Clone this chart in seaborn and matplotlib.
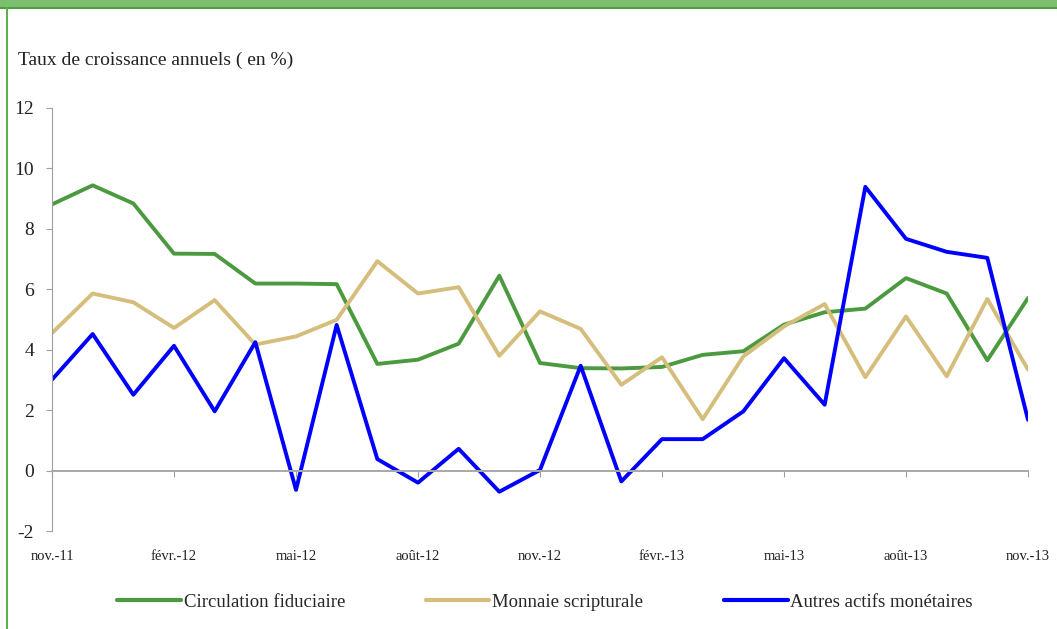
import numpy as np
import pandas as pd
import seaborn as sns
import matplotlib.pyplot as plt
from matplotlib.patches import Rectangle
from matplotlib.lines import Line2D

# Monthly annual growth rates, nov. 2011 -> nov. 2013
months = ["nov.-11", "déc.-11", "janv.-12", "févr.-12", "mars-12", "avr.-12", "mai-12",
          "juin-12", "juil.-12", "août-12", "sept.-12", "oct.-12", "nov.-12", "déc.-12",
          "janv.-13", "févr.-13", "mars-13", "avr.-13", "mai-13", "juin-13", "juil.-13",
          "août-13", "sept.-13", "oct.-13", "nov.-13"]

circulation = [8.81, 9.44, 8.84, 7.18, 7.17, 6.19, 6.19, 6.17, 3.53, 3.67, 4.20, 6.45, 3.56,
               3.39, 3.38, 3.43, 3.83, 3.95, 4.83, 5.24, 5.36, 6.37, 5.86, 3.65, 5.71]
scripturale = [4.55, 5.86, 5.57, 4.72, 5.64, 4.17, 4.44, 4.99, 6.93, 5.86, 6.07, 3.80, 5.27,
               4.69, 2.84, 3.75, 1.70, 3.78, 4.77, 5.51, 3.09, 5.10, 3.12, 5.68, 3.34]
autres = [3.01, 4.52, 2.51, 4.13, 1.96, 4.25, -0.64, 4.82, 0.38, -0.40, 0.72, -0.70, 0.02,
          3.47, -0.36, 1.04, 1.04, 1.96, 3.72, 2.18, 9.39, 7.67, 7.24, 7.04, 1.68]

series_names = ["Circulation fiduciaire", "Monnaie scripturale", "Autres actifs monétaires"]
colors = ["#4c9a40", "#d5be7c", "#0000ff"]

df = pd.DataFrame({
    "idx": list(range(len(months))) * 3,
    "valeur": circulation + scripturale + autres,
    "serie": np.repeat(series_names, len(months)),
})

sns.set_style("white")
plt.rcParams["font.family"] = ["Liberation Serif", "DejaVu Serif"]
plt.rcParams["axes.unicode_minus"] = False

W, H = 1057, 629
fig = plt.figure(figsize=(W / 100, H / 100), dpi=100)

# frame decoration: top green band and left border
fig.patches.append(Rectangle((0, 1 - 7 / H), 1, 7 / H, transform=fig.transFigure,
                             facecolor="#7dbf6e", edgecolor="none"))
fig.lines.append(Line2D([0, 1], [1 - 7.5 / H, 1 - 7.5 / H], transform=fig.transFigure,
                        color="#4f9f42", lw=1.5))
fig.lines.append(Line2D([6.5 / W, 6.5 / W], [0, 1 - 7.5 / H], transform=fig.transFigure,
                        color="#5aae4b", lw=1.4))

ax = fig.add_axes([52 / W, (H - 531) / H, (1028 - 52) / W, (531 - 108) / H])
sns.lineplot(data=df, x="idx", y="valeur", hue="serie", palette=colors,
             hue_order=series_names, linewidth=2.8, ax=ax, legend=False)

ax.set_xlim(0, 24)
ax.set_ylim(-2, 12)
ax.set_xlabel("")
ax.set_ylabel("")

for s in ["top", "right"]:
    ax.spines[s].set_visible(False)
ax.spines["left"].set_color("#a0a0a0")
ax.spines["bottom"].set_color("#a8a8a8")
ax.spines["bottom"].set_linewidth(1.4)
ax.spines["bottom"].set_position(("data", 0))

ax.set_yticks(range(-2, 13, 2))
ax.set_xticks(range(0, 25, 3))
ax.set_xticklabels(months[::3])
ax.tick_params(axis="y", left=True, direction="out", length=4, color="#a0a0a0", pad=9,
               labelsize=14, labelcolor="#222222")
ax.tick_params(axis="x", bottom=True, direction="out", length=4, color="#a0a0a0", pad=53,
               labelsize=10.5, labelcolor="#222222")

fig.text(18 / W, 1 - 60 / H, "Taux de croissance annuels ( en %)", fontsize=14,
         color="#222222", va="center", ha="left")

handles = [Line2D([], [], color=c, lw=3) for c in colors]
fig.legend(handles, series_names, loc="center", bbox_to_anchor=(545 / W, 1 - 602 / H),
           ncol=3, frameon=False, fontsize=13.5, handlelength=3.4, handletextpad=0.15,
           columnspacing=4.3)

fig.savefig("out.png", dpi=100)
